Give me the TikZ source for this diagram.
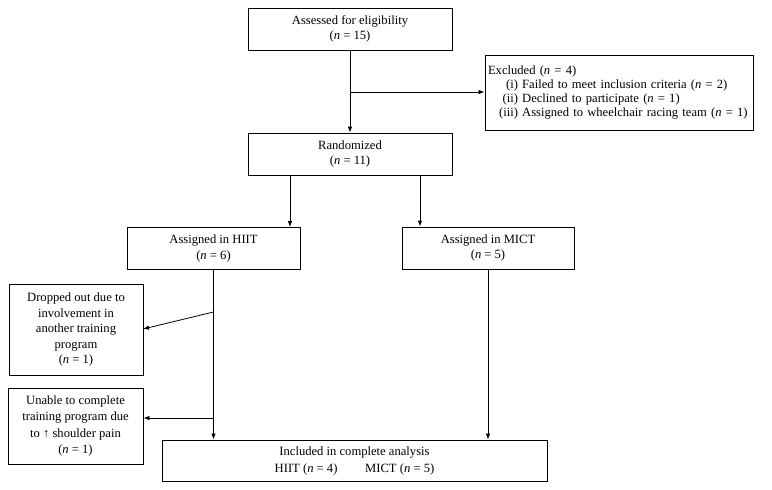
\documentclass[tikz,border=0pt]{standalone}
\usepackage{fontspec}
\setmainfont{Liberation Serif}
\usetikzlibrary{arrows.meta,calc}
\newcommand{\nn}{\textit{n}}
\begin{document}
\begin{tikzpicture}[x=1pt,y=-1pt,
  box/.style={draw, line width=0.8pt, inner sep=2pt, align=center, font=\fontsize{12.6}{15.5}\selectfont},
  arr/.style={line width=0.8pt, -{Latex[length=6pt,width=4.5pt]}}]
\useasboundingbox (0,0) rectangle (772,490);
\node[box, minimum width=204pt, minimum height=42pt] (assess) at (350,29) {Assessed for eligibility\\(\nn{} = 15)};
\node[box, minimum width=268pt, minimum height=75pt, align=left, text width=262pt, font=\fontsize{12.6}{13.8}\selectfont] (excl) at (619,92.5)
  {Excluded (\nn{} = 4)\\
   \makebox[30pt][r]{(i)} Failed to meet inclusion criteria (\nn{} = 2)\\
   \makebox[30pt][r]{(ii)} Declined to participate (\nn{} = 1)\\
   \makebox[30pt][r]{(iii)} Assigned to wheelchair racing team (\nn{} = 1)};
\node[box, minimum width=204pt, minimum height=42pt] (rand) at (350,154) {Randomized\\(\nn{} = 11)};
\node[box, minimum width=173pt, minimum height=42pt] (hiit) at (213.5,248.5) {Assigned in HIIT\\(\nn{} = 6)};
\node[box, minimum width=172pt, minimum height=42pt] (mict) at (488,248) {Assigned in MICT\\(\nn{} = 5)};
\node[box, minimum width=134pt, minimum height=91pt] (drop) at (76,329.5) {Dropped out due to\\involvement in\\another training\\program\\(\nn{} = 1)};
\node[box, minimum width=135pt, minimum height=76pt, font=\fontsize{12.6}{16.5}\selectfont] (unable) at (75.5,426) {Unable to complete\\training program due\\to ↑ shoulder pain\\(\nn{} = 1)};
\node[box, minimum width=385pt, minimum height=41pt, font=\fontsize{12.6}{17}\selectfont] (incl) at (354.5,460.5) {Included in complete analysis\\HIIT (\nn{} = 4)\hspace{2.2em}MICT (\nn{} = 5)};
% connectors
\coordinate (br) at (350,92);
\draw[arr] (assess.south) -- (rand.north);
\draw[arr] (br) -- (br -| excl.west);
\draw[arr] (rand.south -| 290,0) -- (hiit.north -| 290,0);
\draw[arr] (rand.south -| 420,0) -- (mict.north -| 420,0);
\draw[arr] (hiit.south) -- (hiit.south |- incl.north);
\draw[arr] (mict.south) -- (mict.south |- incl.north);
\coordinate (d1) at (213.5,312);
\draw[arr] (d1) -- (143,329);
\coordinate (u1) at (213.5,418);
\draw[arr] (u1) -- (u1 -| unable.east);
\end{tikzpicture}
\end{document}
